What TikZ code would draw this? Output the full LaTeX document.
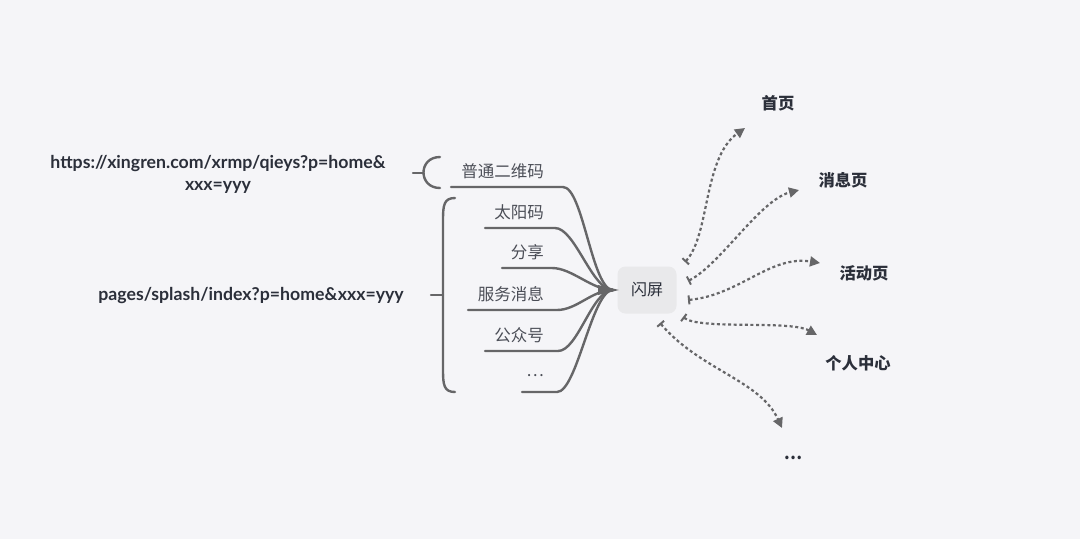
\documentclass[tikz,border=0pt]{standalone}
\usepackage{fontspec}
\setmainfont{Lato}
\newfontfamily\cjk{Noto Sans CJK SC}
\usetikzlibrary{arrows.meta}

\definecolor{bg}{HTML}{F5F5F8}
\definecolor{ink}{HTML}{2B2F3A}
\definecolor{branch}{HTML}{666668}
\definecolor{flashbg}{HTML}{E9E9EB}

\tikzset{
  url/.style={font=\bfseries\fontsize{17.7}{22}\selectfont, text=ink, align=center, inner sep=0},
  leaf/.style={font=\cjk\fontsize{16.5}{18}\selectfont, text=ink!85, anchor=east, inner sep=0},
  page/.style={font=\cjk\bfseries\fontsize{16.3}{18}\selectfont, text=ink, inner sep=0},
  link/.style={draw=branch, line width=2.4pt, line cap=round},
  jump/.style={draw=branch, line width=2.2pt, dash pattern=on 3pt off 2.6pt,
    {Bar[width=9pt,line width=2pt]}-{Triangle[length=10pt,width=10pt]}}
}

\begin{document}
\begin{tikzpicture}[x=1pt,y=-1pt]
    \fill[bg] (0,0) rectangle (1080,539);
    \useasboundingbox (0,0) rectangle (1080,539);

    % sources
    \node[url] (qrurl) at (218,174) {https://xingren.com/xrmp/qieys?p=home\&\\xxx=yyy};
    \node[url] (path) at (251,296) {pages/splash/index?p=home\&xxx=yyy};

    % splash screen
    \node[fill=flashbg, rounded corners=8pt, minimum width=59pt, minimum height=47pt,
          font=\cjk\fontsize{16}{18}\selectfont, text=ink] (flash) at (647,290) {闪屏};
    \coordinate (hub) at (613,290);

    % braces
    \draw[link] (440,157) .. controls (418,157) and (418,188) .. (440,188);
    \draw[link] (413,173) -- (423,173);
    \draw[link] (455,198) .. controls (444,198) and (443,205) .. (443,220)
                -- (443,370) .. controls (443,385) and (444,392) .. (455,392);
    \draw[link] (431,295) -- (443,295);

    % entry branches
    \foreach \n/\y/\xa/\xb/\txt in {1/187/451/563/普通二维码, 2/228/485/555/太阳码,
                                  3/268/502/552/分享, 4/310/468/557/服务消息,
                                  5/351/485/558/公众号, 6/392/522/557/\dots}
        {
            \node[leaf] (b\n) at (544,\y-16) {\txt};
            \coordinate (u\n) at (\xa,\y);
            \draw[link] (u\n) -- (\xb,\y) .. controls (\xb+20,\y) and (592,290) .. (hub);
        }
    \fill[branch] (598,285) -- (619,290) -- (598,295) -- cycle;

    % target pages
    \node[page] (home) at (778,103) {首页};
    \node[page] (msg) at (843,180) {消息页};
    \node[page] (act) at (864,273) {活动页};
    \node[page] (mine) at (858,363) {个人中心};
    \node[page] (more) at (793,458) {\dots};

    \coordinate (t1) at (685,262); \coordinate (h1) at (745,128);
    \coordinate (t2) at (688,281); \coordinate (h2) at (799,190);
    \coordinate (t3) at (688,300); \coordinate (h3) at (820,263);
    \coordinate (t4) at (683,317); \coordinate (h4) at (817,335);
    \coordinate (t5) at (660,323); \coordinate (h5) at (782,428);

    \draw[jump] (t1) .. controls (710,235) and (703,158) .. (h1);
    \draw[jump] (t2) .. controls (720,265) and (760,200) .. (h2);
    \draw[jump] (t3) .. controls (740,295) and (770,255) .. (h3);
    \draw[jump] (t4) .. controls (700,330) and (790,320) .. (h4);
    \draw[jump] (t5) .. controls (700,370) and (760,380) .. (h5);
\end{tikzpicture}
\end{document}
